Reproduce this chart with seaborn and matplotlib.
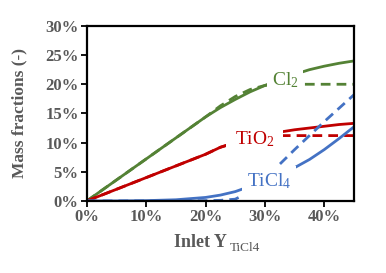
import numpy as np
import pandas as pd
import matplotlib
matplotlib.use("Agg")
import matplotlib.pyplot as plt
import seaborn as sns

# ---- data (percent) ----
x_grid = [0, 5, 10, 15, 20, 22.5, 25, 27.5, 30, 32.5, 35, 37.5, 40, 42.5, 45]

cl2_solid = [0, 3.6, 7.2, 10.8, 14.4, 16.0, 17.4, 18.7, 19.8, 20.8, 21.7, 22.5, 23.1, 23.6, 24.0]
cl2_dashed = [0, 3.6, 7.2, 10.8, 14.4, 16.3, 17.9, 19.1, 19.8, 20.0, 20.0, 20.0, 20.0, 20.0, 20.0]
tio2_solid = [0, 2.0, 4.0, 6.0, 8.0, 9.2, 10.0, 10.7, 11.2, 11.8, 12.2, 12.5, 12.8, 13.1, 13.3]
tio2_dashed = [0, 2.0, 4.0, 6.0, 8.0, 9.2, 10.0, 10.7, 11.1, 11.2, 11.2, 11.2, 11.2, 11.2, 11.2]
ticl4_solid = [0, 0, 0.05, 0.2, 0.6, 1.0, 1.6, 2.5, 3.4, 4.5, 5.7, 7.1, 8.8, 10.7, 12.7]
ticl4_dashed = [0, 0, 0, 0, 0.05, 0.1, 0.3, 1.6, 3.9, 6.3, 8.8, 11.2, 13.6, 15.9, 18.2]

species = ["Cl2", "TiO2", "TiCl4"]
label_text = {"Cl2": r"Cl$_{\mathrm{2}}$", "TiO2": r"TiO$_{\mathrm{2}}$", "TiCl4": r"TiCl$_{\mathrm{4}}$"}
label_pos = {"Cl2": (33.4, 20.7), "TiO2": (28.3, 10.6), "TiCl4": (30.7, 3.4)}
colors = {"Cl2": "#548235", "TiO2": "#C00000", "TiCl4": "#4472C4"}

x_ticks = [0, 10, 20, 30, 40]
y_ticks = [0, 5, 10, 15, 20, 25, 30]

rows = []
for sp, s, d in [("Cl2", cl2_solid, cl2_dashed), ("TiO2", tio2_solid, tio2_dashed),
                 ("TiCl4", ticl4_solid, ticl4_dashed)]:
    for xv, yv in zip(x_grid, s):
        rows.append((xv, yv, sp, "solid"))
    for xv, yv in zip(x_grid, d):
        rows.append((xv, yv, sp, "dashed"))
df = pd.DataFrame(rows, columns=["x", "y", "species", "case"])

sns.set_style("white")
plt.rcParams["font.family"] = ["Liberation Serif", "DejaVu Serif"]
plt.rcParams["mathtext.fontset"] = "custom"
plt.rcParams["mathtext.rm"] = "Liberation Serif"
plt.rcParams["mathtext.it"] = "Liberation Serif:italic"
plt.rcParams["mathtext.bf"] = "Liberation Serif:bold"

fig = plt.figure(figsize=(3.86, 2.73), dpi=100)
ax = fig.add_axes([0.225, 0.264, 0.692, 0.641])

sns.lineplot(data=df, x="x", y="y", hue="species", style="case",
             palette=colors, dashes={"solid": "", "dashed": (3.5, 2.2)},
             style_order=["solid", "dashed"], hue_order=species,
             linewidth=2.0, legend=False, ax=ax, estimator=None, sort=False)

for sp in species:
    xx, yy = label_pos[sp]
    ax.text(xx, yy, label_text[sp], color=colors[sp], fontsize=14,
            ha="center", va="center", zorder=5,
            bbox=dict(boxstyle="square,pad=0.25" if sp != "TiO2" else "square,pad=0.45",
                      fc="white", ec="none"))

ax.set_xlim(0, 45)
ax.set_ylim(0, 30)
ax.set_xticks(x_ticks)
ax.set_yticks(y_ticks)
ax.set_xticklabels([f"{t}%" for t in x_ticks])
ax.set_yticklabels([f"{t}%" for t in y_ticks])

gray = "#595959"
ax.tick_params(axis="both", direction="out", length=4, width=1.3, color="black",
               labelcolor=gray, labelsize=12, pad=2, bottom=True, left=True)
for lab in ax.get_xticklabels() + ax.get_yticklabels():
    lab.set_fontweight("bold")
for s in ax.spines.values():
    s.set_color("black")
    s.set_linewidth(1.6)
    s.set_visible(True)

ax.set_ylabel("Mass fractions (-)", fontsize=12.5, fontweight="bold", color=gray, labelpad=12.5)
ax.set_xlabel("Inlet Y", fontsize=13, fontweight="bold", color=gray)
ax.xaxis.set_label_coords(0.427, -0.19)
ax.annotate("TiCl4", xy=(1, 0), xycoords=ax.xaxis.label, xytext=(2, 6.5),
            textcoords="offset points", ha="left", va="top",
            fontsize=9.5, color=gray)

fig.savefig("out.png", dpi=100)
